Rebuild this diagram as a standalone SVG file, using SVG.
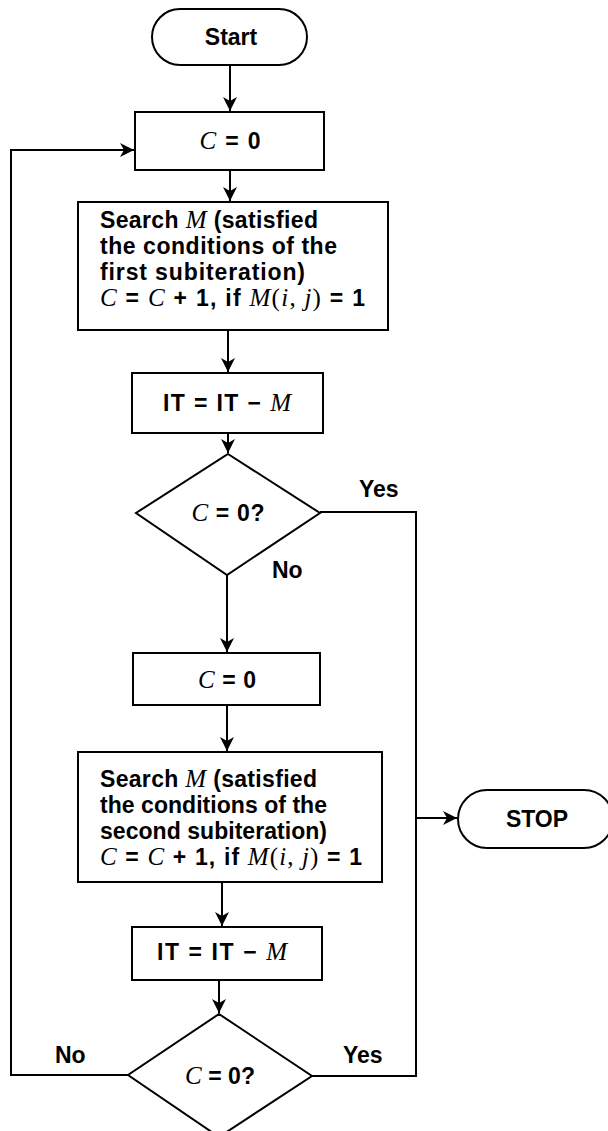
<svg xmlns="http://www.w3.org/2000/svg" width="608" height="1131" viewBox="0 0 608 1131">
<style>
.shape{fill:#fff;stroke:#000;stroke-width:2}
.conn{fill:none;stroke:#000;stroke-width:2}
.t{font-family:"Liberation Sans",Arial,sans-serif;font-weight:bold;font-size:23px;fill:#000}
.m{font-family:"Liberation Serif","Times New Roman",serif;font-style:italic;font-weight:normal;font-size:25px}
.r{font-family:"Liberation Serif","Times New Roman",serif;font-style:normal;font-weight:normal;font-size:25px}
</style>
<defs>
<marker id="ah" markerUnits="userSpaceOnUse" markerWidth="16" markerHeight="14" refX="14" refY="7" orient="auto">
<path d="M0,0 L14,7 L0,14 L4,7 z" fill="#000"/>
</marker>
</defs>
<rect width="608" height="1131" fill="#fff"/>
<g id="connectors">
<line class="conn" x1="230" y1="65" x2="230" y2="111" marker-end="url(#ah)"/>
<line class="conn" x1="230" y1="170" x2="230" y2="201" marker-end="url(#ah)"/>
<line class="conn" x1="228" y1="330" x2="228" y2="372" marker-end="url(#ah)"/>
<line class="conn" x1="228" y1="433" x2="228" y2="453" marker-end="url(#ah)"/>
<line class="conn" x1="227" y1="575" x2="227" y2="652" marker-end="url(#ah)"/>
<line class="conn" x1="227" y1="705" x2="227" y2="751" marker-end="url(#ah)"/>
<line class="conn" x1="222" y1="882" x2="222" y2="926" marker-end="url(#ah)"/>
<line class="conn" x1="219" y1="980" x2="219" y2="1013" marker-end="url(#ah)"/>
<polyline class="conn" points="320,512 416,512 416,1076 312,1076"/>
<line class="conn" x1="416" y1="818" x2="457" y2="818" marker-end="url(#ah)"/>
<polyline class="conn" points="128,1075 11,1075 11,150 134,150" marker-end="url(#ah)"/>
</g>
<g id="start">
<rect class="shape" x="152" y="9" width="155" height="56" rx="28" ry="28"/>
<text class="t" x="231" y="45" text-anchor="middle">Start</text>
</g>
<g id="c0a">
<rect class="shape" x="135" y="112" width="189" height="58"/>
<text class="t" x="230" y="149" text-anchor="middle" textLength="61" lengthAdjust="spacing"><tspan class="m">C</tspan> = 0</text>
</g>
<g id="search1">
<rect class="shape" x="78" y="202" width="310" height="128"/>
<text class="t" x="100" y="228" textLength="218" lengthAdjust="spacing">Search <tspan class="m">M</tspan> (satisfied</text>
<text class="t" x="100" y="254" textLength="237" lengthAdjust="spacing">the conditions of the</text>
<text class="t" x="100" y="280" textLength="205" lengthAdjust="spacing">first subiteration)</text>
<text class="t" x="100" y="306" textLength="265" lengthAdjust="spacing"><tspan class="m">C</tspan> = <tspan class="m">C</tspan> + 1, if <tspan class="m">M</tspan><tspan class="r">(</tspan><tspan class="m">i</tspan><tspan class="r">, </tspan><tspan class="m">j</tspan><tspan class="r">)</tspan> = 1</text>
</g>
<g id="it1">
<rect class="shape" x="132" y="373" width="191" height="60"/>
<text class="t" x="227" y="411" text-anchor="middle" textLength="128" lengthAdjust="spacing">IT = IT − <tspan class="m">M</tspan></text>
</g>
<g id="d1">
<polygon class="shape" points="228,454 320,513 227,575 136,513"/>
<text class="t" x="228" y="521" text-anchor="middle" textLength="73" lengthAdjust="spacing"><tspan class="m">C</tspan> = 0?</text>
<text class="t" x="359" y="497">Yes</text>
<text class="t" x="272" y="578">No</text>
</g>
<g id="c0b">
<rect class="shape" x="133" y="653" width="187" height="52"/>
<text class="t" x="227" y="688" text-anchor="middle" textLength="58" lengthAdjust="spacing"><tspan class="m">C</tspan> = 0</text>
</g>
<g id="search2">
<rect class="shape" x="78" y="752" width="304" height="130"/>
<text class="t" x="100" y="787" textLength="217" lengthAdjust="spacing">Search <tspan class="m">M</tspan> (satisfied</text>
<text class="t" x="100" y="813" textLength="227" lengthAdjust="spacing">the conditions of the</text>
<text class="t" x="100" y="839" textLength="227" lengthAdjust="spacing">second subiteration)</text>
<text class="t" x="100" y="865" textLength="262" lengthAdjust="spacing"><tspan class="m">C</tspan> = <tspan class="m">C</tspan> + 1, if <tspan class="m">M</tspan><tspan class="r">(</tspan><tspan class="m">i</tspan><tspan class="r">, </tspan><tspan class="m">j</tspan><tspan class="r">)</tspan> = 1</text>
</g>
<g id="stop">
<rect class="shape" x="458" y="790" width="155" height="58" rx="29" ry="29"/>
<text class="t" x="537" y="827" text-anchor="middle">STOP</text>
</g>
<g id="it2">
<rect class="shape" x="132" y="927" width="190" height="53"/>
<text class="t" x="222" y="960" text-anchor="middle" textLength="130" lengthAdjust="spacing">IT = IT − <tspan class="m">M</tspan></text>
</g>
<g id="d2">
<polygon class="shape" points="219,1014 312,1076 219,1137 128,1075"/>
<text class="t" x="220" y="1084" text-anchor="middle" textLength="70" lengthAdjust="spacing"><tspan class="m">C</tspan> = 0?</text>
<text class="t" x="55" y="1063">No</text>
<text class="t" x="343" y="1063">Yes</text>
</g>
</svg>
